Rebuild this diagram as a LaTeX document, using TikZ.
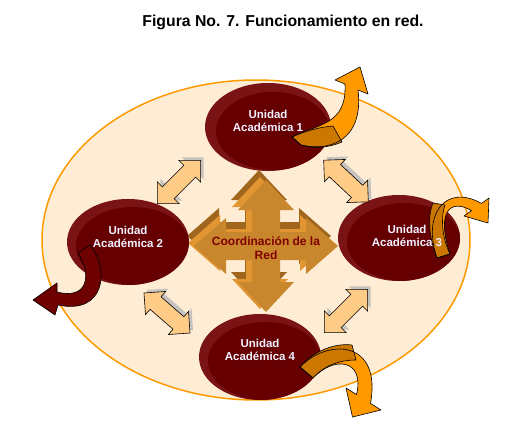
\documentclass[tikz,border=0pt]{standalone}
\usepackage{fontspec}
\setmainfont{Liberation Sans}
\usetikzlibrary{shapes.geometric, shapes.arrows, shadows, positioning, calc}

\definecolor{ringorange}{RGB}{255, 153, 0}
\definecolor{ringfill}{RGB}{254, 236, 212}
\definecolor{unitrim}{RGB}{122, 20, 20}
\definecolor{unitdark}{RGB}{102, 0, 0}
\definecolor{unittext}{RGB}{240, 240, 255}
\definecolor{crossgold}{RGB}{200, 135, 45}
\definecolor{crossdark}{RGB}{160, 102, 30}
\definecolor{crosslight}{RGB}{225, 150, 50}
\definecolor{crosstext}{RGB}{128, 0, 0}
\definecolor{arrowlight}{RGB}{255, 204, 136}
\definecolor{curvelight}{RGB}{255, 153, 0}
\definecolor{curvedark}{RGB}{204, 119, 0}
\definecolor{curvemaroon}{RGB}{110, 0, 0}

\tikzset{
  unidad/.style={ellipse, fill=unitrim, minimum width=122pt, minimum height=86pt, inner sep=0pt,
    path picture={\fill[unitdark] ([xshift=5pt,yshift=-4pt]path picture bounding box.center) ellipse [x radius=57pt, y radius=39pt];}},
  unidadtxt/.style={text=unittext, font=\bfseries\fontsize{11.5}{13.5}\selectfont, align=center},
  enlace/.style={double arrow, draw=black, line width=0.6pt, fill=arrowlight, minimum height=61pt,
    minimum width=30pt, double arrow head extend=7pt, inner xsep=0pt, inner ysep=8pt,
    drop shadow={shadow xshift=3pt, shadow yshift=3pt, fill=gray!55, opacity=0.8}},
  giro/.style={draw=black, line width=0.6pt, line join=round},
  pics/cruz/.style={code={
    \fill[#1] (72,0) -- (40,-28) -- (40,-14) -- (14,-14) -- (14,-36) -- (28,-36) -- (0,-66)
      -- (-28,-36) -- (-14,-36) -- (-14,-14) -- (-40,-14) -- (-40,-28) -- (-72,0)
      -- (-40,28) -- (-40,14) -- (-14,14) -- (-14,36) -- (-28,36) -- (0,66)
      -- (28,36) -- (14,36) -- (14,14) -- (40,14) -- (40,28) -- cycle;
  }}
}

\begin{document}
\begin{tikzpicture}[x=1pt, y=-1pt]
  \useasboundingbox (0,0) rectangle (512,436);

  \node[font=\bfseries\fontsize{15.8}{18}\selectfont] (titulo) at (283,22) {Figura No. 7. Funcionamiento en red.};

  % fondo de la red
  \node[ellipse, draw=ringorange, line width=1.5pt, fill=ringfill, minimum width=428pt, minimum height=320pt] (red) at (256,240) {};

  % cruz central
  \pic at (259,236) {cruz=crossdark};
  \pic at (260,243) {cruz=crosslight};
  \pic at (266,246) {cruz=crossgold};
  \node[text=crosstext, font=\bfseries\fontsize{12}{14.5}\selectfont, align=center] (coord) at (266,248) {Coordinación de la\\Red};

  % unidades
  \node[unidad, minimum width=126pt, minimum height=88pt] (u1) at (268,127) {};
  \node[unidad] (u2) at (128,242) {};
  \node[unidad] (u3) at (399,238) {};
  \node[unidad] (u4) at (260,357) {};

  % enlaces entre unidades
  \node[enlace, rotate=45] (a21) at (179,182) {};
  \node[enlace, rotate=-43] (a13) at (346,181) {};
  \node[enlace, rotate=-41] (a24) at (167,313) {};
  \node[enlace, rotate=45] (a43) at (346,311) {};

  % flechas hacia fuera
  \fill[curvelight] (292,137) .. controls (318,124) and (347,125) .. (345,84) -- (335,80) -- (360,67) -- (368,94) -- (358,90) .. controls (364,140) and (330,152) .. (301,145) -- cycle;
  \filldraw[curvedark, giro] (292,137) .. controls (305,131) and (320,127) .. (333,126) -- (342,142) .. controls (325,149) and (312,148) .. (301,145) -- cycle;
  \draw[giro] (292,137) .. controls (318,124) and (347,125) .. (345,84) -- (335,80) -- (360,67) -- (368,94) -- (358,90) .. controls (364,140) and (330,152) .. (301,145) -- cycle;

  \fill[curvelight] (437,258) .. controls (422,215) and (445,183) .. (481.5,203.4) -- (489,198) -- (488,223) -- (464,216) -- (471.5,210.6) .. controls (450,198) and (436,212) .. (450,254) -- cycle;
  \filldraw[curvedark, giro] (437,258) .. controls (428,235) and (428,215) .. (433,203) -- (445,205) .. controls (440,220) and (443,240) .. (450,254) -- cycle;
  \draw[giro] (437,258) .. controls (422,215) and (445,183) .. (481.5,203.4) -- (489,198) -- (488,223) -- (464,216) -- (471.5,210.6) .. controls (450,198) and (436,212) .. (450,254) -- cycle;

  \fill[curvelight] (300,367) .. controls (328,338) and (382,340) .. (370.5,403.4) -- (381,410) -- (352.5,417) -- (346,388) -- (356.5,394.6) .. controls (365,360) and (335,355) .. (313,378) -- cycle;
  \filldraw[curvedark, giro] (300,367) .. controls (315,350) and (335,343) .. (352,345) -- (356,360) .. controls (340,360) and (325,365) .. (313,378) -- cycle;
  \draw[giro] (300,367) .. controls (328,338) and (382,340) .. (370.5,403.4) -- (381,410) -- (352.5,417) -- (346,388) -- (356.5,394.6) .. controls (365,360) and (335,355) .. (313,378) -- cycle;

  \filldraw[curvemaroon, giro] (78,253) .. controls (92,275) and (88,300) .. (57,292) -- (57,283) -- (33,300) -- (55,315) -- (58,305) .. controls (105,315) and (110,270) .. (90,245) -- cycle;

  % textos de las unidades
  \node[unidadtxt] at ([yshift=6pt]u1.center) {Unidad\\Académica 1};
  \node[unidadtxt] at ([yshift=5pt]u2.center) {Unidad\\Académica 2};
  \node[unidadtxt] at ([xshift=8pt,yshift=2pt]u3.center) {Unidad\\Académica 3};
  \node[unidadtxt] at ([yshift=7pt]u4.center) {Unidad\\Académica 4};
\end{tikzpicture}
\end{document}
